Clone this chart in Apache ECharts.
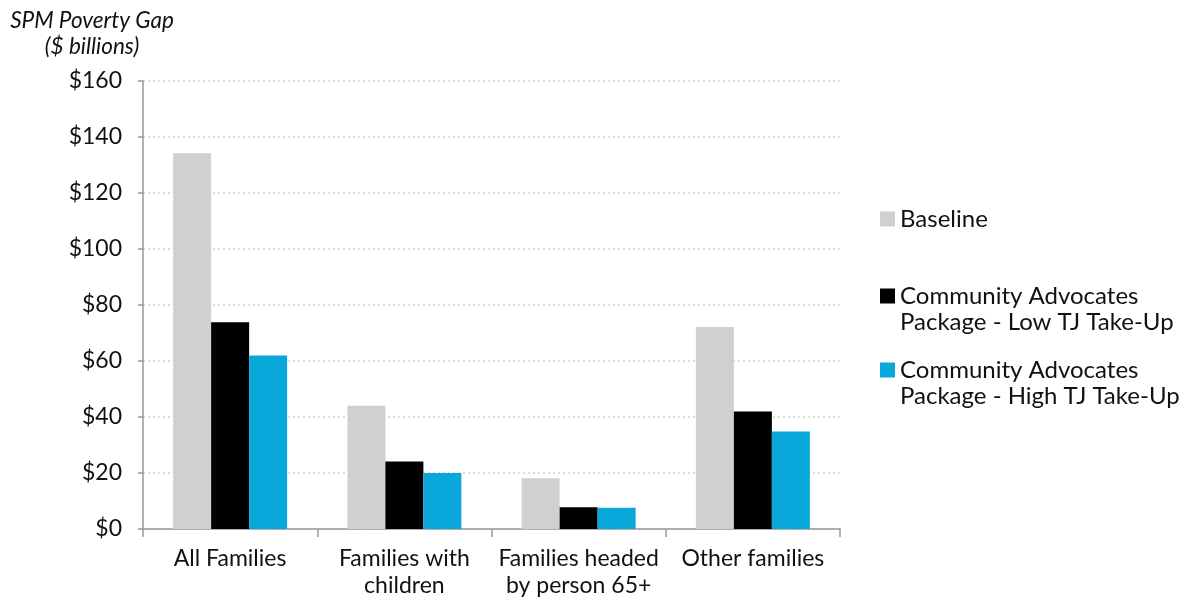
<!DOCTYPE html>
<html>
<head>
<meta charset="utf-8">
<script src="https://cdn.jsdelivr.net/npm/echarts@6/dist/echarts.min.js"></script>
<style>html,body{margin:0;padding:0;background:#fff;}#chart{width:1192px;height:599px;}</style>
</head>
<body>
<div id="chart"></div>
<script>
const categories = ['All Families', 'Families with\nchildren', 'Families headed\nby person 65+', 'Other families'];
const seriesNames = ['Baseline', 'Community Advocates\nPackage - Low TJ Take-Up', 'Community Advocates\nPackage - High TJ Take-Up'];
const baseline = [134.2, 44.0, 18.1, 72.1];
const lowTJ = [73.8, 24.1, 7.8, 42.0];
const highTJ = [62.0, 20.0, 7.6, 34.8];
const yTicks = { min: 0, max: 160, interval: 20 };
const colors = ['#d0d0d0', '#000000', '#0aa8da'];

const FONT = 'Lato, "Noto Sans", sans-serif';
const chart = echarts.init(document.getElementById('chart'));
const values = [baseline, lowTJ, highTJ];

function legendFor(i, top, twoLine) {
  return {
    orient: 'vertical', left: 880, top: top, padding: 0,
    data: [seriesNames[i]],
    icon: twoLine ? 'path://M0,0H15V15H0Z M0,41H0.001' : 'rect',
    itemWidth: 15, itemHeight: twoLine ? 41 : 15, itemGap: 0,
    symbolKeepAspect: false,
    selectedMode: false,
    textStyle: { fontFamily: FONT, fontSize: 24, color: '#111', lineHeight: 26 }
  };
}

chart.setOption({
  animation: false,
  backgroundColor: '#fff',
  title: {
    text: 'SPM Poverty Gap\n($ billions)',
    left: 87, top: 3,
    textAlign: 'center',
    textStyle: { fontFamily: FONT, fontSize: 22.5, fontStyle: 'italic', fontWeight: 'normal', color: '#111', lineHeight: 26 }
  },
  legend: [legendFor(0, 206, false), legendFor(1, 283, true), legendFor(2, 357, true)],
  grid: { left: 143, right: 352, top: 81, bottom: 70, containLabel: false },
  xAxis: {
    type: 'category', data: categories,
    axisLine: { lineStyle: { color: '#999', width: 1.5 } },
    axisTick: { show: true, length: 8, lineStyle: { color: '#999', width: 1.5 } },
    axisLabel: { interval: 0, fontFamily: FONT, fontSize: 23, color: '#111', lineHeight: 27, margin: 16 }
  },
  yAxis: {
    type: 'value', min: yTicks.min, max: yTicks.max, interval: yTicks.interval,
    axisLine: { show: true, lineStyle: { color: '#999', width: 1.5 } },
    axisTick: { show: true, length: 5, lineStyle: { color: '#999', width: 1.5 } },
    axisLabel: { fontFamily: FONT, fontSize: 23, color: '#111', margin: 21, formatter: v => '$' + v },
    splitLine: { show: true, lineStyle: { color: '#cfcfcf', width: 1.5, type: [2, 3] } }
  },
  series: values.map((d, i) => ({
    name: seriesNames[i], type: 'bar', data: d,
    barWidth: 38, barGap: '0%',
    itemStyle: { color: colors[i] }
  }))
});
</script>
</body>
</html>
